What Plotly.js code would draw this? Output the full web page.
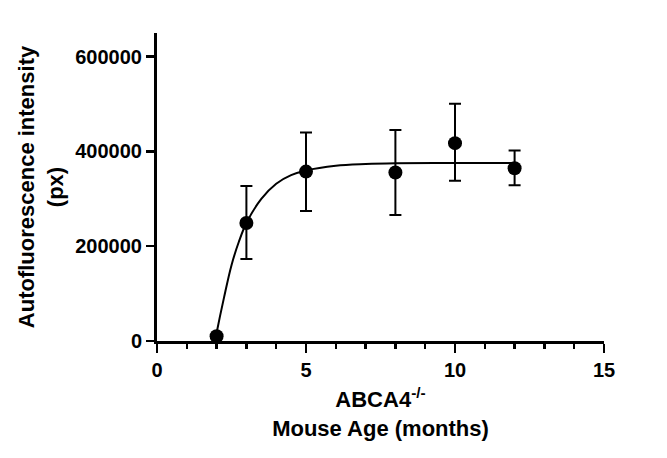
<!DOCTYPE html>
<html><head><meta charset="utf-8">
<script src="https://cdn.plot.ly/plotly-3.0.1.min.js"></script>
<style>html,body{margin:0;padding:0;background:#fff}#chart{width:667px;height:458px}</style>
</head><body><div id="chart"></div>
<script>
// Measured means with SD error bars
const ageMonths = [2, 3, 5, 8, 10, 12];
const intensity = [10000, 249000, 357500, 355500, 417500, 364500];
const errUpper = [0, 78000, 82500, 90000, 83000, 37500];
const errLower = [0, 76000, 83000, 89500, 79500, 36000];
// Fitted curve
const fitX = [1.95, 2, 2.25, 2.5, 2.75, 3, 3.5, 4, 4.5, 5, 6, 7, 8, 10, 12];
const fitY = [0, 17000, 92000, 160000, 210000, 249000, 300000, 332000, 350000, 360000, 370000, 373500, 375000, 375500, 375500];
const xTicks = [0, 5, 10, 15];
const yTicks = [0, 200000, 400000, 600000];

const F = {family: '"Liberation Sans", Arial, sans-serif', color: '#000', weight: 'bold'};
const traces = [
  {x: fitX, y: fitY, mode: 'lines', line: {color: '#000', width: 2, shape: 'spline', smoothing: 1}, hoverinfo: 'skip'},
  {x: ageMonths, y: intensity, mode: 'markers', marker: {color: '#000', size: 14},
   error_y: {type: 'data', symmetric: false, array: errUpper, arrayminus: errLower, color: '#000', thickness: 2, width: 6}}
];
const layout = {
  width: 667, height: 458, showlegend: false,
  paper_bgcolor: '#fff', plot_bgcolor: '#fff',
  margin: {l: 157, r: 63, t: 33, b: 117},
  xaxis: {range: [0, 15], tickvals: xTicks, ticktext: xTicks.map(String), showgrid: false, zeroline: false,
    showline: true, linecolor: '#000', linewidth: 3, ticks: 'outside', ticklen: 9, tickwidth: 2.5, tickcolor: '#000',
    minor: {dtick: 1, ticks: 'outside', ticklen: 5, tickwidth: 2.5, tickcolor: '#000', showgrid: false},
    tickfont: Object.assign({size: 20}, F),
    title: {text: 'ABCA4<sup>-/-</sup><br>Mouse Age (months)', font: Object.assign({size: 22}, F), standoff: 12}},
  yaxis: {range: [0, 650000], tickvals: yTicks, ticktext: yTicks.map(String), showgrid: false, zeroline: false,
    showline: true, linecolor: '#000', linewidth: 3, ticks: 'outside', ticklen: 8, tickwidth: 2.5, tickcolor: '#000',
    tickfont: Object.assign({size: 20}, F),
    title: {text: 'Autofluorescence intensity<br>(px)', font: Object.assign({size: 22}, F), standoff: 6}}
};
Plotly.newPlot('chart', traces, layout, {displayModeBar: false, staticPlot: true});
</script></body></html>
